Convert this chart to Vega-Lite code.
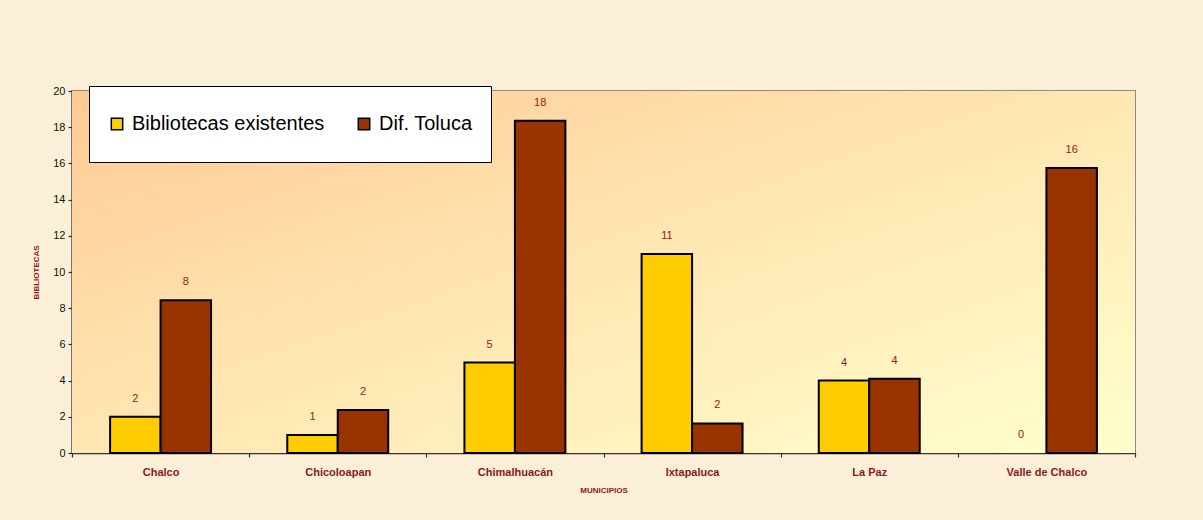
{
  "$schema": "https://vega.github.io/schema/vega-lite/v6.json",
  "width": 1063,
  "height": 362,
  "autosize": {"type": "none"},
  "padding": {"left": 72, "top": 91, "right": 68, "bottom": 67},
  "background": "#FBEFD8",
  "config": {
    "font": "Liberation Sans",
    "view": {"stroke": "#8A8A8A", "strokeWidth": 2},
    "axis": {"labelFont": "Liberation Sans", "titleFont": "Liberation Sans", "grid": false, "domainColor": "#333333", "domainWidth": 1.5, "tickColor": "#333333", "tickWidth": 1.2, "tickSize": 4}
  },
  "datasets": {
    "bars": [
      {"municipio": "Chalco", "serie": "Bibliotecas existentes", "valor": 2.0},
      {"municipio": "Chalco", "serie": "Dif. Toluca", "valor": 8.44},
      {"municipio": "Chicoloapan", "serie": "Bibliotecas existentes", "valor": 1.0},
      {"municipio": "Chicoloapan", "serie": "Dif. Toluca", "valor": 2.37},
      {"municipio": "Chimalhuacán", "serie": "Bibliotecas existentes", "valor": 5.0},
      {"municipio": "Chimalhuacán", "serie": "Dif. Toluca", "valor": 18.36},
      {"municipio": "Ixtapaluca", "serie": "Bibliotecas existentes", "valor": 11.0},
      {"municipio": "Ixtapaluca", "serie": "Dif. Toluca", "valor": 1.63},
      {"municipio": "La Paz", "serie": "Bibliotecas existentes", "valor": 4.0},
      {"municipio": "La Paz", "serie": "Dif. Toluca", "valor": 4.1},
      {"municipio": "Valle de Chalco", "serie": "Bibliotecas existentes", "valor": 0},
      {"municipio": "Valle de Chalco", "serie": "Dif. Toluca", "valor": 15.74}
    ]
  },
  "layer": [
    {
      "data": {"values": [{"bg": 1}]},
      "mark": {
        "type": "rect",
        "fill": {
          "gradient": "linear", "x1": 0, "y1": 0, "x2": 1, "y2": 1,
          "stops": [
            {"offset": 0, "color": "#FFC994"},
            {"offset": 0.45, "color": "#FFE4B0"},
            {"offset": 1, "color": "#FFFFCC"}
          ]
        }
      },
      "encoding": {}
    },
    {
      "data": {"name": "bars"},
      "encoding": {
        "x": {
          "field": "municipio", "type": "nominal", "sort": null,
          "scale": {"paddingInner": 0, "paddingOuter": 0},
          "axis": {
            "title": "MUNICIPIOS", "titleFontSize": 8, "titleFontWeight": "bold", "titleColor": "#8B1A1A", "titlePadding": 9,
            "labelFontSize": 11, "labelFontWeight": "bold", "labelColor": "#8B1A1A", "labelAngle": 0, "labelPadding": 9,
            "tickBand": "extent"
          }
        },
        "xOffset": {"field": "serie", "type": "nominal", "scale": {"paddingInner": 0, "paddingOuter": 0.755}},
        "y": {
          "field": "valor", "type": "quantitative",
          "scale": {"domain": [0, 20], "nice": false},
          "axis": {
            "title": "BIBLIOTECAS", "titleFontSize": 8, "titleFontWeight": "bold", "titleColor": "#8B1A1A", "titlePadding": 12,
            "values": [0, 2, 4, 6, 8, 10, 12, 14, 16, 18, 20], "labelOverlap": false,
            "labelFontSize": 11, "labelColor": "#111111", "labelPadding": 3
          }
        }
      },
      "layer": [
        {
          "mark": {"type": "bar", "strokeWidth": 2},
          "encoding": {
            "stroke": {"condition": {"test": "datum.valor > 0", "value": "#000000"}, "value": null},
            "color": {
              "field": "serie", "type": "nominal",
              "scale": {"domain": ["Bibliotecas existentes", "Dif. Toluca"], "range": ["#FFCC00", "#993300"]},
              "legend": {
                "title": null, "orient": "none", "legendX": 17, "legendY": -5, "direction": "horizontal",
                "fillColor": "#FFFFFF", "strokeColor": "#000000", "padding": 18, "clipHeight": 40,
                "symbolType": "square", "symbolSize": 130, "symbolStrokeColor": "#000000", "symbolStrokeWidth": 1.5,
                "labelFontSize": 20, "labelFont": "Liberation Sans", "labelColor": "#000000", "labelOffset": 5, "labelLimit": 400, "columnPadding": 29
              }
            }
          }
        },
        {
          "mark": {"type": "text", "baseline": "middle", "dy": -18, "fontSize": 11, "color": "#962020"},
          "encoding": {
            "text": {"field": "valor", "type": "quantitative", "format": ".0f"}
          }
        }
      ]
    }
  ]
}
